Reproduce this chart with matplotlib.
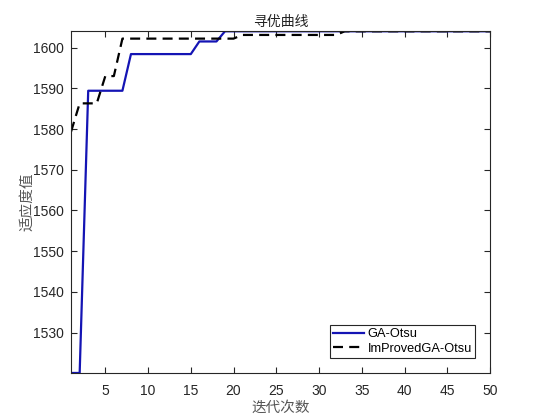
import matplotlib
matplotlib.use("Agg")
import matplotlib.pyplot as plt
import numpy as np

plt.rcParams['font.family'] = ['Liberation Sans', 'Noto Sans CJK SC', 'DejaVu Sans']

iters = list(range(1, 51))
ga_otsu = ([1520.1, 1520.1] + [1589.4] * 5 + [1598.4] * 8 + [1601.5] * 3 + [1604.0] * 32)
improved = ([1579.4] + [1586.3] * 3 + [1593.0] * 2 + [1602.2] * 14 + [1603.1] * 12 + [1604.0] * 18)

xticks = [5, 10, 15, 20, 25, 30, 35, 40, 45, 50]
yticks = [1530, 1540, 1550, 1560, 1570, 1580, 1590, 1600]

fig = plt.figure(figsize=(5.6, 4.2), dpi=100)
ax = fig.add_axes([0.127, 0.112, 0.748, 0.814])

ax.plot(iters, ga_otsu, color='#1414b4', lw=1.6, label='GA-Otsu')
ax.plot(iters, improved, color='black', lw=1.6, ls=(0, (4.5, 2.8)), label='ImProvedGA-Otsu')

ax.set_xlim(1, 50)
ax.set_ylim(min(ga_otsu), max(ga_otsu) + 0.05)
ax.set_xticks(xticks)
ax.set_yticks(yticks)
ax.tick_params(direction='in', top=True, right=True, length=4, width=0.8,
               labelsize=10, colors='#262626')
ax.tick_params(axis='x', pad=8)
ax.tick_params(axis='y', pad=5)
for s in ax.spines.values():
    s.set_color('#262626')
    s.set_linewidth(0.8)

cjk = ['Noto Sans CJK SC', 'DejaVu Sans']
ax.set_title('寻优曲线', family=cjk, fontsize=10, color='#222222', pad=4)
ax.set_xlabel('迭代次数', family=cjk, fontsize=10.5, color='#555555', labelpad=2)
ax.set_ylabel('适应度值', family=cjk, fontsize=10.5, color='#555555', labelpad=-1)

leg = ax.legend(loc='lower right', fontsize=9.2, frameon=True, fancybox=False,
                edgecolor='#262626', framealpha=1, borderpad=0.25,
                handlelength=2.4, labelspacing=0.2, handletextpad=0.3,
                bbox_to_anchor=(0.98, 0.025))
leg.get_frame().set_linewidth(0.8)

fig.savefig('out.png', dpi=100)
